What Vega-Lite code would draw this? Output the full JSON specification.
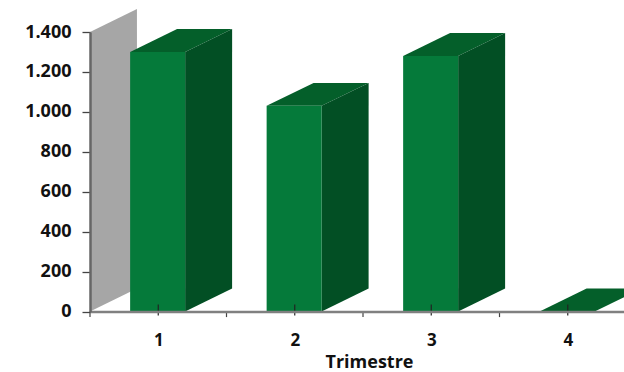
{
"$schema":"https://vega.github.io/schema/vega-lite/v6.json",
"width":534,"height":279.5,
"autosize":"none",
"padding":{"left":90,"right":0,"top":32,"bottom":60.5},
"background":"white",
"config":{"view":{"stroke":null}},
"data":{"values":[{"trimestre":1,"valor":1300},{"trimestre":2,"valor":1030},{"trimestre":3,"valor":1280},{"trimestre":4,"valor":0}]},
"layer":[
{"data":{"values":[{"maximo":1400}]},
 "transform":[{"calculate":"[0,1]","as":"t"},{"flatten":["t"]},{"calculate":"0.5+0.344*datum.t","as":"x0"},{"calculate":"115*datum.t","as":"y0"},{"calculate":"datum.maximo+115*datum.t","as":"y1"}],
 "mark":{"type":"area","color":"#a6a6a6","clip":false},
 "encoding":{"x":{"field":"x0","type":"quantitative","scale":{"domain":[0.5,4.412],"nice":false,"zero":false},
   "axis":{"values":[1,2,3,4],"format":"d","title":"Trimestre","grid":false,"tickSize":0,"labelPadding":21,"labelOverlap":false,"labelFont":"Open Sans","labelFontWeight":"bold","labelFontSize":17,"labelColor":"#111","titleFont":"Open Sans","titleFontWeight":"bold","titleFontSize":18,"titleColor":"#111","titleX":279,"titleY":56,"titleBaseline":"alphabetic","domainColor":"#808080","domainWidth":2.5,"zindex":1}},
  "y":{"field":"y0","type":"quantitative","scale":{"domain":[0,1400],"nice":false},
   "axis":{"values":[0,200,400,600,800,1000,1200,1400],"tickCount":12,"labelExpr":"replace(format(datum.value,'d'),/(\\d)(\\d{3})$/,'$1.$2')","title":null,"grid":false,"tickSize":8,"tickColor":"#444","tickWidth":1.3,"labelPadding":11,"labelOverlap":false,"labelFont":"Open Sans","labelFontWeight":"bold","labelFontSize":18,"labelColor":"#111","domainColor":"#666","domainWidth":2.5,"zindex":1}},
  "y2":{"field":"y1"}}},
{"transform":[{"calculate":"[0,1]","as":"t"},{"flatten":["t"]},{"calculate":"datum.valor+115*datum.t","as":"yt"},{"calculate":"datum.trimestre-0.206+0.344*datum.t","as":"xa"},{"calculate":"datum.trimestre+0.197+0.344*datum.t","as":"xb"}],
 "mark":{"type":"area","orient":"horizontal","color":"#045f2a"},
 "encoding":{"y":{"field":"yt","type":"quantitative"},"x":{"field":"xa","type":"quantitative"},"x2":{"field":"xb"},"detail":{"field":"trimestre","type":"nominal"}}},
{"transform":[{"filter":"datum.valor>0"},{"calculate":"[0,1]","as":"t"},{"flatten":["t"]},{"calculate":"datum.trimestre+0.197+0.344*datum.t","as":"xs"},{"calculate":"115*datum.t","as":"ya"},{"calculate":"datum.valor+115*datum.t","as":"yb"}],
 "mark":{"type":"area","color":"#024f24"},
 "encoding":{"x":{"field":"xs","type":"quantitative"},"y":{"field":"ya","type":"quantitative"},"y2":{"field":"yb"},"detail":{"field":"trimestre","type":"nominal"}}},
{"transform":[{"filter":"datum.valor>0"},{"calculate":"[0,1]","as":"t"},{"flatten":["t"]},{"calculate":"datum.trimestre-0.206+0.403*datum.t","as":"xf"},{"calculate":"0","as":"base"}],
 "mark":{"type":"area","color":"#057a3a"},
 "encoding":{"x":{"field":"xf","type":"quantitative"},"y":{"field":"base","type":"quantitative"},"y2":{"field":"valor"},"detail":{"field":"trimestre","type":"nominal"}}},
{"transform":[{"calculate":"datum.trimestre-0.5","as":"lim"},{"calculate":"-28","as":"a"},{"calculate":"0","as":"b"}],
 "mark":{"type":"rule","color":"#444","strokeWidth":1.2},
 "encoding":{"x":{"field":"lim","type":"quantitative"},"y":{"field":"a","type":"quantitative"},"y2":{"field":"b"}}},
{"transform":[{"calculate":"-20","as":"a"},{"calculate":"35","as":"b"}],
 "mark":{"type":"rule","color":"#222","strokeWidth":1.2},
 "encoding":{"x":{"field":"trimestre","type":"quantitative"},"y":{"field":"a","type":"quantitative"},"y2":{"field":"b"}}}
]
}
